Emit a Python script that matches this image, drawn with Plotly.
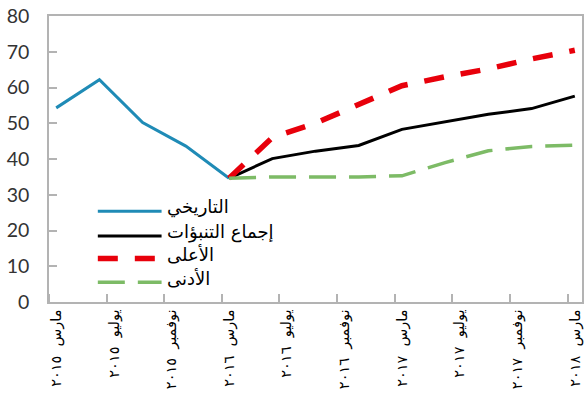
import plotly.graph_objects as go

# Arabic month names and digits used for the axis labels
MONTHS_AR = ["يناير", "فبراير", "مارس", "أبريل", "مايو", "يونيو",
             "يوليو", "أغسطس", "سبتمبر", "أكتوبر", "نوفمبر", "ديسمبر"]
AR_DIGITS = str.maketrans("0123456789", "٠١٢٣٤٥٦٧٨٩")

START = (2015, 3)   # first month on the axis
END = (2018, 3)     # last month on the axis
LABEL_STEP = 4      # one label every four months

# Historical series (quarterly)
history_months = [(2015, 3), (2015, 6), (2015, 9), (2015, 12), (2016, 3)]
history = [54.3, 62.2, 50.2, 43.6, 34.6]

# Forecast series (quarterly)
forecast_months = [(2016, 3), (2016, 6), (2016, 9), (2016, 12), (2017, 3),
                   (2017, 6), (2017, 9), (2017, 12), (2018, 3)]
consensus = [34.6, 40.1, 42.2, 43.8, 48.3, 50.3, 52.5, 54.1, 57.6]
high = [34.6, 46.0, 50.0, 55.3, 60.5, 63.0, 65.2, 68.0, 70.4]
low = [34.6, 35.0, 35.0, 35.0, 35.3, 39.0, 42.3, 43.5, 43.9]

y_ticks = [0, 10, 20, 30, 40, 50, 60, 70, 80]

names = ["التاريخي", "إجماع التنبؤات", "الأعلى", "الأدنى"]
colors = ["#1f8bb6", "#000000", "#e8000b", "#7dbb66"]
widths = [3, 3, 5.5, 3.5]
dashes = ["solid", "solid", "20px,17px", "27px,13px"]


def month_index(ym):
    return (ym[0] - START[0]) * 12 + (ym[1] - START[1])


n_months = month_index(END) + 1
tick_idx = list(range(0, n_months, LABEL_STEP))
tick_text = []
for i in tick_idx:
    m = (START[1] - 1 + i) % 12
    y = START[0] + (START[1] - 1 + i) // 12
    tick_text.append(MONTHS_AR[m] + "  " + str(y).translate(AR_DIGITS))

hx = [month_index(m) for m in history_months]
fx = [month_index(m) for m in forecast_months]
series = [(hx, history), (fx, consensus), (fx, high), (fx, low)]

fig = go.Figure()
for (xs, ys), name, c, w, d in zip(series, names, colors, widths, dashes):
    fig.add_trace(go.Scatter(x=xs, y=ys, mode="lines", name=name,
                             line=dict(color=c, width=w, dash=d),
                             showlegend=False))

axis_color = "#b3b3b3"
fig.update_xaxes(
    range=[-0.5, n_months - 0.5],
    tickmode="array", tickvals=tick_idx, ticktext=tick_text,
    tickangle=-90, ticks="",
    tickfont=dict(family="DejaVu Sans", size=14.5, color="#000000"),
    minor=dict(tickmode="array",
               tickvals=[i - 0.5 for i in tick_idx],
               ticks="inside", ticklen=8, tickwidth=1.5,
               tickcolor=axis_color, showgrid=False),
    showline=True, linecolor=axis_color, linewidth=1.5, mirror=True,
    showgrid=False, zeroline=False,
)
fig.update_yaxes(
    range=[0, 80], tickmode="array", tickvals=y_ticks,
    ticks="inside", ticklen=8, tickwidth=1.5, tickcolor=axis_color,
    ticklabelstandoff=14, ticklabeloverflow="allow",
    tickfont=dict(family="Lato", size=19.5, color="#333333"),
    showline=True, linecolor=axis_color, linewidth=1.5, mirror=True,
    showgrid=False, zeroline=False,
)

# Legend drawn inside the plot area
left, right, top, bottom = 49, 4, 12, 96
W, H = 588, 398
pw, ph = W - left - right, H - top - bottom
rows_px = [210, 235, 258, 282]
x0 = (98 - left) / pw
x1 = (162 - left) / pw
xt = (165 - left) / pw
for name, c, w, d, ypx in zip(names, colors, widths, dashes, rows_px):
    yp = (H - bottom - ypx) / ph
    fig.add_shape(type="line", xref="paper", yref="paper",
                  x0=x0, x1=x1, y0=yp, y1=yp,
                  line=dict(color=c, width=w, dash=d))
    fig.add_annotation(xref="paper", yref="paper", x=xt, y=yp + 4 / ph,
                       text=name, showarrow=False, xanchor="left",
                       yanchor="middle",
                       font=dict(family="DejaVu Sans", size=18,
                                 color="#000000"))

fig.update_layout(
    width=W, height=H,
    margin=dict(l=left, r=right, t=top, b=bottom),
    paper_bgcolor="white", plot_bgcolor="white",
    showlegend=False,
)

fig.write_html("out.html")
